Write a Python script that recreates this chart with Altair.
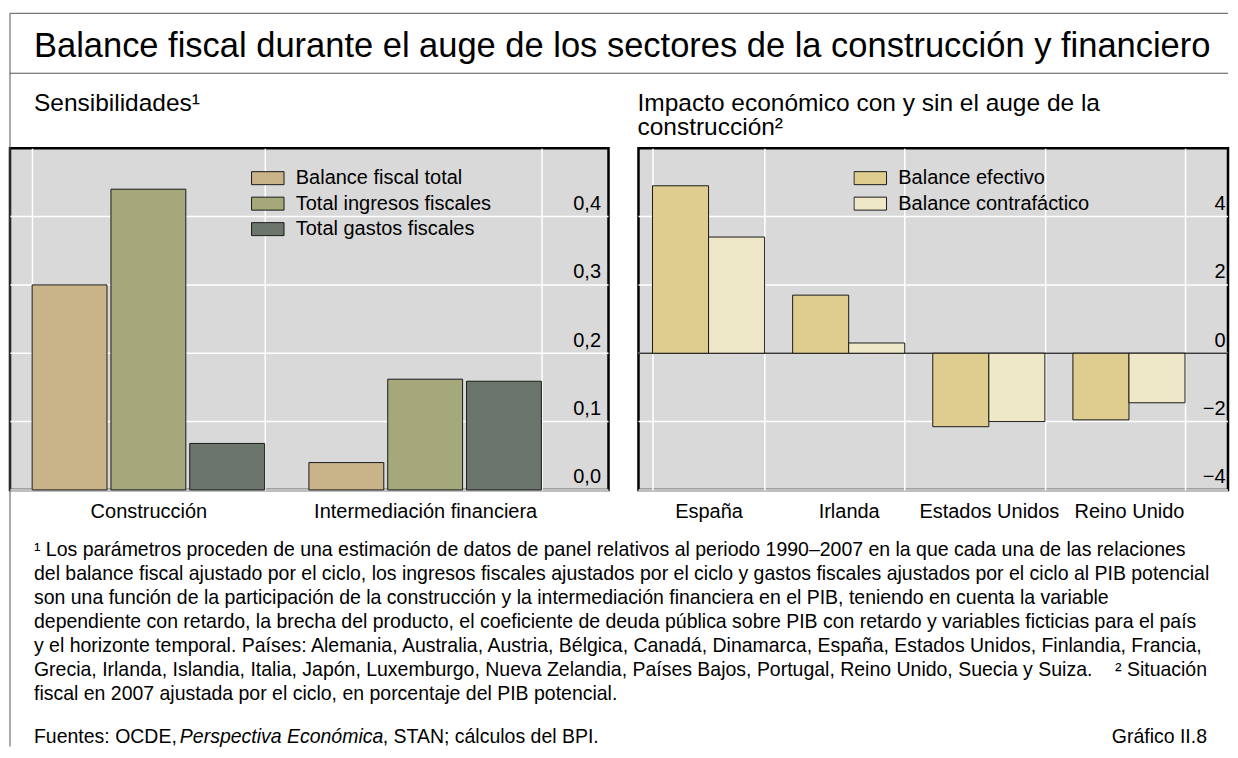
import altair as alt
import pandas as pd

FONT = "Liberation Sans"

# ---------------- data ----------------
sectors = ["Construcción", "Intermediación financiera"]
left_series = ["Balance fiscal total", "Total ingresos fiscales", "Total gastos fiscales"]
balance_total = [0.30, 0.04]
ingresos_totales = [0.44, 0.162]
gastos_totales = [0.068, 0.159]
left_colors = ["#C9B48A", "#A4A87A", "#6B756C"]
left_ticks = [0.0, 0.1, 0.2, 0.3, 0.4]

countries = ["España", "Irlanda", "Estados Unidos", "Reino Unido"]
right_series = ["Balance efectivo", "Balance contrafáctico"]
balance_efectivo = [4.9, 1.7, -2.15, -1.95]
balance_contrafactico = [3.4, 0.3, -2.0, -1.45]
right_colors = ["#DFCD8F", "#EFE8C8"]
right_ticks = [-4, -2, 0, 2, 4]

main_title = "Balance fiscal durante el auge de los sectores de la construcción y financiero"
left_subtitle = "Sensibilidades¹"
right_subtitle = ["Impacto económico con y sin el auge de la", "construcción²"]
footnote_lines = [
    "¹ Los parámetros proceden de una estimación de datos de panel relativos al periodo 1990–2007 en la que cada una de las relaciones",
    "del balance fiscal ajustado por el ciclo, los ingresos fiscales ajustados por el ciclo y gastos fiscales ajustados por el ciclo al PIB potencial",
    "son una función de la participación de la construcción y la intermediación financiera en el PIB, teniendo en cuenta la variable",
    "dependiente con retardo, la brecha del producto, el coeficiente de deuda pública sobre PIB con retardo y variables ficticias para el país",
    "y el horizonte temporal. Países: Alemania, Australia, Austria, Bélgica, Canadá, Dinamarca, España, Estados Unidos, Finlandia, Francia,",
    "Grecia, Irlanda, Islandia, Italia, Japón, Luxemburgo, Nueva Zelandia, Países Bajos, Portugal, Reino Unido, Suecia y Suiza.",
    "fiscal en 2007 ajustada por el ciclo, en porcentaje del PIB potencial.",
]
footnote_tail = "² Situación"
source_parts = ["Fuentes: OCDE,", "Perspectiva Económica", ", STAN; cálculos del BPI."]
chart_id = "Gráfico II.8"

# ---------------- tables ----------------
left_df = pd.DataFrame({
    "sector": sectors * 3,
    "series": [s for s in left_series for _ in sectors],
    "value": balance_total + ingresos_totales + gastos_totales,
})
right_df = pd.DataFrame({
    "country": countries * 2,
    "series": [s for s in right_series for _ in countries],
    "value": balance_efectivo + balance_contrafactico,
})

H = 342
WL = 599
WR = 590
SWATCH = "M-1,-0.4H1V0.4H-1Z"
LABEL_SIZE = 20
FOOT_SIZE = 19.5
VIEW = alt.ViewBackground(fill="#D9D9D9", stroke="black", strokeWidth=2.5)


def legend(x):
    return alt.Legend(title=None, orient="none", legendX=x, legendY=19, padding=0,
                      symbolType=SWATCH, symbolSize=1056, symbolStrokeColor="#1a1a1a",
                      symbolStrokeWidth=1, symbolOpacity=1, labelFontSize=LABEL_SIZE,
                      labelColor="black", labelOffset=11, clipHeight=22, rowPadding=3.5,
                      labelLimit=500, labelFont=FONT)


def x_axis():
    return alt.Axis(title=None, domain=False, ticks=False, tickSize=0, grid=True,
                    gridColor="white", gridWidth=1.5, tickBand="extent", labelAngle=0,
                    labelPadding=12, labelFontSize=LABEL_SIZE, labelColor="black",
                    labelFont=FONT, labelBaseline="top", labelLimit=500)


def y_axis(values, pad, expr):
    return alt.Axis(orient="right", values=values, title=None, domain=False, ticks=False,
                    tickSize=0, grid=False,
                    labelAlign="right", labelPadding=pad, labelBaseline="alphabetic",
                    labelOffset=-7, labelFontSize=LABEL_SIZE, labelColor="black",
                    labelFont=FONT, labelExpr=expr)


def hgrid(ticks):
    # horizontal white gridlines across the whole panel (label area included)
    return alt.Chart(pd.DataFrame({"value": ticks})).mark_rule(
        color="white", strokeWidth=1.5).encode(y="value:Q")


def text(lines, x, y, size, align="left", style="normal", line_height=None):
    df = pd.DataFrame({"t": ["\n".join(lines) if isinstance(lines, list) else lines]})
    kw = dict(align=align, baseline="alphabetic", fontSize=size, font=FONT,
              color="black", fontStyle=style)
    if line_height is not None:
        kw.update(lineBreak="\n", lineHeight=line_height)
    return alt.Chart(df).mark_text(**kw).encode(text="t:N", x=alt.value(x), y=alt.value(y))


def rule(x, x2, y, y2):
    df = pd.DataFrame({"r": [0]})
    return alt.Chart(df).mark_rule(color="#555555", strokeWidth=1).encode(
        x=alt.value(x), x2=alt.value(x2), y=alt.value(y), y2=alt.value(y2))


# ---------------- left panel ----------------
left_bars = alt.Chart(left_df).mark_bar(stroke="#1a1a1a", strokeWidth=1).encode(
    x=alt.X("sector:N", sort=sectors,
            scale=alt.Scale(domain=sectors, range=[0, 554], paddingInner=0.16, paddingOuter=0.08),
            axis=x_axis()),
    xOffset=alt.XOffset("series:N", sort=left_series,
                        scale=alt.Scale(domain=left_series, paddingInner=0.05, paddingOuter=0)),
    y=alt.Y("value:Q", scale=alt.Scale(domain=[0, 0.5], nice=False),
            axis=y_axis(left_ticks, -8, "replace(format(datum.value, '.1f'), '.', ',')")),
    color=alt.Color("series:N", scale=alt.Scale(domain=left_series, range=left_colors),
                    legend=legend(241)),
)

FOOT_Y = 408.5
SRC_Y = 595.5
RIGHT_END = 1219

left = alt.layer(
    hgrid(left_ticks),
    left_bars,
    rule(0, RIGHT_END, -135, -135),
    rule(0, RIGHT_END, -75, -75),
    rule(0, 0, -135, 599),
    text(main_title, 24, -91.5, 34.5),
    text(left_subtitle, 24, -37.5, 24.5),
    text(footnote_lines, 24, FOOT_Y, FOOT_SIZE, line_height=24),
    text(footnote_tail, 1198, FOOT_Y + 5 * 24, FOOT_SIZE, align="right"),
    text(source_parts[0], 24, SRC_Y, FOOT_SIZE),
    text(source_parts[1], 170, SRC_Y, FOOT_SIZE, style="italic"),
    text(source_parts[2], 373, SRC_Y, FOOT_SIZE),
    text(chart_id, 1198, SRC_Y, FOOT_SIZE, align="right"),
).properties(width=WL, height=H, view=VIEW)

# ---------------- right panel ----------------
zero_line = alt.Chart(pd.DataFrame({"z": [0]})).mark_rule(color="#3a3a3a", strokeWidth=1.5).encode(
    y=alt.datum(0))

right_bars = alt.Chart(right_df).mark_bar(stroke="#1a1a1a", strokeWidth=1).encode(
    x=alt.X("country:N", sort=countries,
            scale=alt.Scale(domain=countries, range=[0, 561], paddingInner=0.2, paddingOuter=0.1),
            axis=x_axis()),
    xOffset=alt.XOffset("series:N", sort=right_series,
                        scale=alt.Scale(domain=right_series, paddingInner=0, paddingOuter=0)),
    y=alt.Y("value:Q", scale=alt.Scale(domain=[-4, 6], nice=False),
            axis=y_axis(right_ticks, -3, "datum.label")),
    color=alt.Color("series:N", scale=alt.Scale(domain=right_series, range=right_colors),
                    legend=legend(215)),
)

right = alt.layer(
    hgrid(right_ticks),
    zero_line,
    right_bars,
    text(right_subtitle, -1, -37.5, 24.5, line_height=24),
).properties(width=WR, height=H, view=VIEW)

chart = alt.hconcat(left, right, spacing=30, bounds="flush").resolve_scale(
    color="independent", x="independent", y="independent", xOffset="independent"
).properties(
    padding={"left": 0, "top": 3, "right": 0, "bottom": 0},
    background="white",
).configure(
    font=FONT,
    view=alt.ViewConfig(fill="#D9D9D9", stroke="black", strokeWidth=2.5),
)

chart.save("out.html", embed_options={"renderer": "svg", "actions": False})
